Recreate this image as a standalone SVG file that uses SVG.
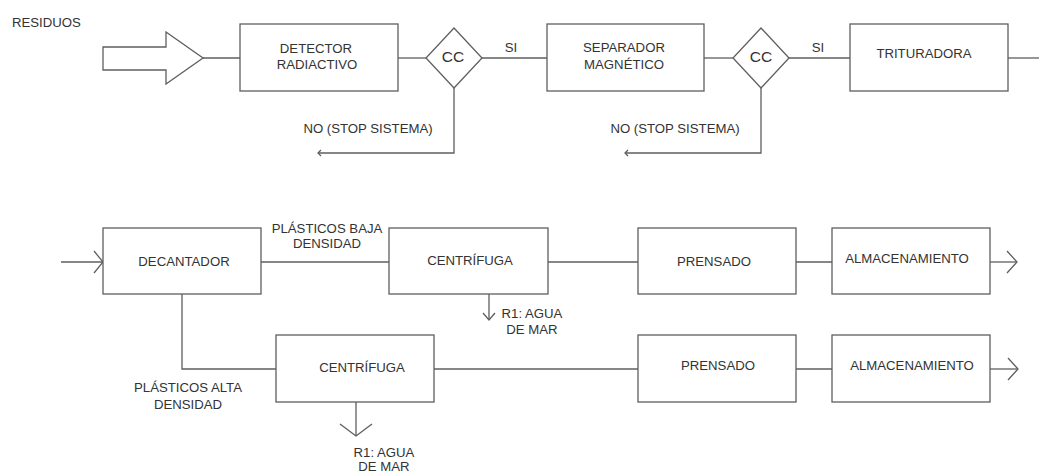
<svg xmlns="http://www.w3.org/2000/svg" width="1039" height="473" viewBox="0 0 1039 473">
<style>
.box{fill:#fff;stroke:#5f5f5f;stroke-width:1.3}
.ln{fill:none;stroke:#5f5f5f;stroke-width:1.3}
.t{font-family:"Liberation Sans",Arial,sans-serif;font-size:13.2px;fill:#333;text-anchor:middle}
.tl{text-anchor:start}
.cc{font-size:15.5px}
</style>
<rect width="1039" height="473" fill="#fff"/>
<g id="connectors">
<line class="ln" x1="203" y1="58" x2="240" y2="58"/>
<line class="ln" x1="398" y1="58" x2="426" y2="58"/>
<line class="ln" x1="482" y1="58" x2="547" y2="58"/>
<line class="ln" x1="704" y1="58" x2="733" y2="58"/>
<line class="ln" x1="789" y1="58" x2="850" y2="58"/>
<line class="ln" x1="1008" y1="58" x2="1039" y2="58"/>
<polyline class="ln" points="454,88 454,153 318,153"/>
<polyline class="ln" points="321,150 318,153 321,156"/>
<polyline class="ln" points="761,88 761,153 625,153"/>
<polyline class="ln" points="628,150 625,153 628,156"/>
<line class="ln" x1="61" y1="262" x2="103" y2="262"/>
<polyline class="ln" points="94,251 103,262 94,273"/>
<line class="ln" x1="261" y1="262" x2="389" y2="262"/>
<line class="ln" x1="548" y1="262" x2="638" y2="262"/>
<line class="ln" x1="796" y1="262" x2="832" y2="262"/>
<line class="ln" x1="990" y1="262" x2="1017" y2="262"/>
<polyline class="ln" points="1007,251 1017,262 1007,273"/>
<line class="ln" x1="489" y1="294" x2="489" y2="320"/>
<polyline class="ln" points="483,313 489,320 495,313"/>
<polyline class="ln" points="182,294 182,369 276,369"/>
<line class="ln" x1="434" y1="369" x2="638" y2="369"/>
<line class="ln" x1="796" y1="369" x2="832" y2="369"/>
<line class="ln" x1="990" y1="369" x2="1018" y2="369"/>
<polyline class="ln" points="1008,358 1018,369 1008,380"/>
<line class="ln" x1="356" y1="402" x2="356" y2="436"/>
<polyline class="ln" points="340,424 356,436 372,424"/>
</g>
<g id="residuos">
<text class="t tl" x="12" y="27">RESIDUOS</text>
<polygon class="box" points="103,47 166,47 166,32 203,58 166,84 166,70 103,70"/>
</g>
<g id="detector">
<rect class="box" x="240" y="24" width="158" height="67"/>
<text class="t" x="316" y="53">DETECTOR</text>
<text class="t" x="317" y="69">RADIACTIVO</text>
</g>
<g id="cc1">
<polygon class="box" points="454,28 482,58 454,88 426,58"/>
<text class="t cc" x="453" y="62">CC</text>
<text class="t" x="511" y="52">SI</text>
<text class="t" x="368" y="133">NO (STOP SISTEMA)</text>
</g>
<g id="separador">
<rect class="box" x="547" y="24" width="157" height="67"/>
<text class="t" x="624" y="52">SEPARADOR</text>
<text class="t" x="624" y="69">MAGNÉTICO</text>
</g>
<g id="cc2">
<polygon class="box" points="761,28 789,58 761,88 733,58"/>
<text class="t cc" x="761" y="62">CC</text>
<text class="t" x="818" y="52">SI</text>
<text class="t" x="675" y="133">NO (STOP SISTEMA)</text>
</g>
<g id="trituradora">
<rect class="box" x="850" y="24" width="158" height="67"/>
<text class="t" x="924" y="58">TRITURADORA</text>
</g>
<g id="decantador">
<rect class="box" x="103" y="228" width="158" height="66"/>
<text class="t" x="184" y="266">DECANTADOR</text>
</g>
<g id="label-baja">
<text class="t" x="327" y="233">PLÁSTICOS BAJA</text>
<text class="t" x="327" y="248">DENSIDAD</text>
</g>
<g id="centrifuga1">
<rect class="box" x="389" y="228" width="159" height="66"/>
<text class="t" x="470" y="265">CENTRÍFUGA</text>
<text class="t" x="532" y="318">R1: AGUA</text>
<text class="t" x="532" y="334">DE MAR</text>
</g>
<g id="prensado1">
<rect class="box" x="638" y="228" width="158" height="66"/>
<text class="t" x="714" y="266">PRENSADO</text>
</g>
<g id="almacen1">
<rect class="box" x="832" y="228" width="158" height="66"/>
<text class="t" x="907" y="263">ALMACENAMIENTO</text>
</g>
<g id="label-alta">
<text class="t" x="188" y="392">PLÁSTICOS ALTA</text>
<text class="t" x="188" y="409">DENSIDAD</text>
</g>
<g id="centrifuga2">
<rect class="box" x="276" y="335" width="158" height="67"/>
<text class="t" x="362" y="372">CENTRÍFUGA</text>
<text class="t" x="384" y="457">R1: AGUA</text>
<text class="t" x="384" y="471">DE MAR</text>
</g>
<g id="prensado2">
<rect class="box" x="638" y="335" width="158" height="67"/>
<text class="t" x="718" y="370">PRENSADO</text>
</g>
<g id="almacen2">
<rect class="box" x="832" y="335" width="158" height="67"/>
<text class="t" x="912" y="370">ALMACENAMIENTO</text>
</g>
</svg>
